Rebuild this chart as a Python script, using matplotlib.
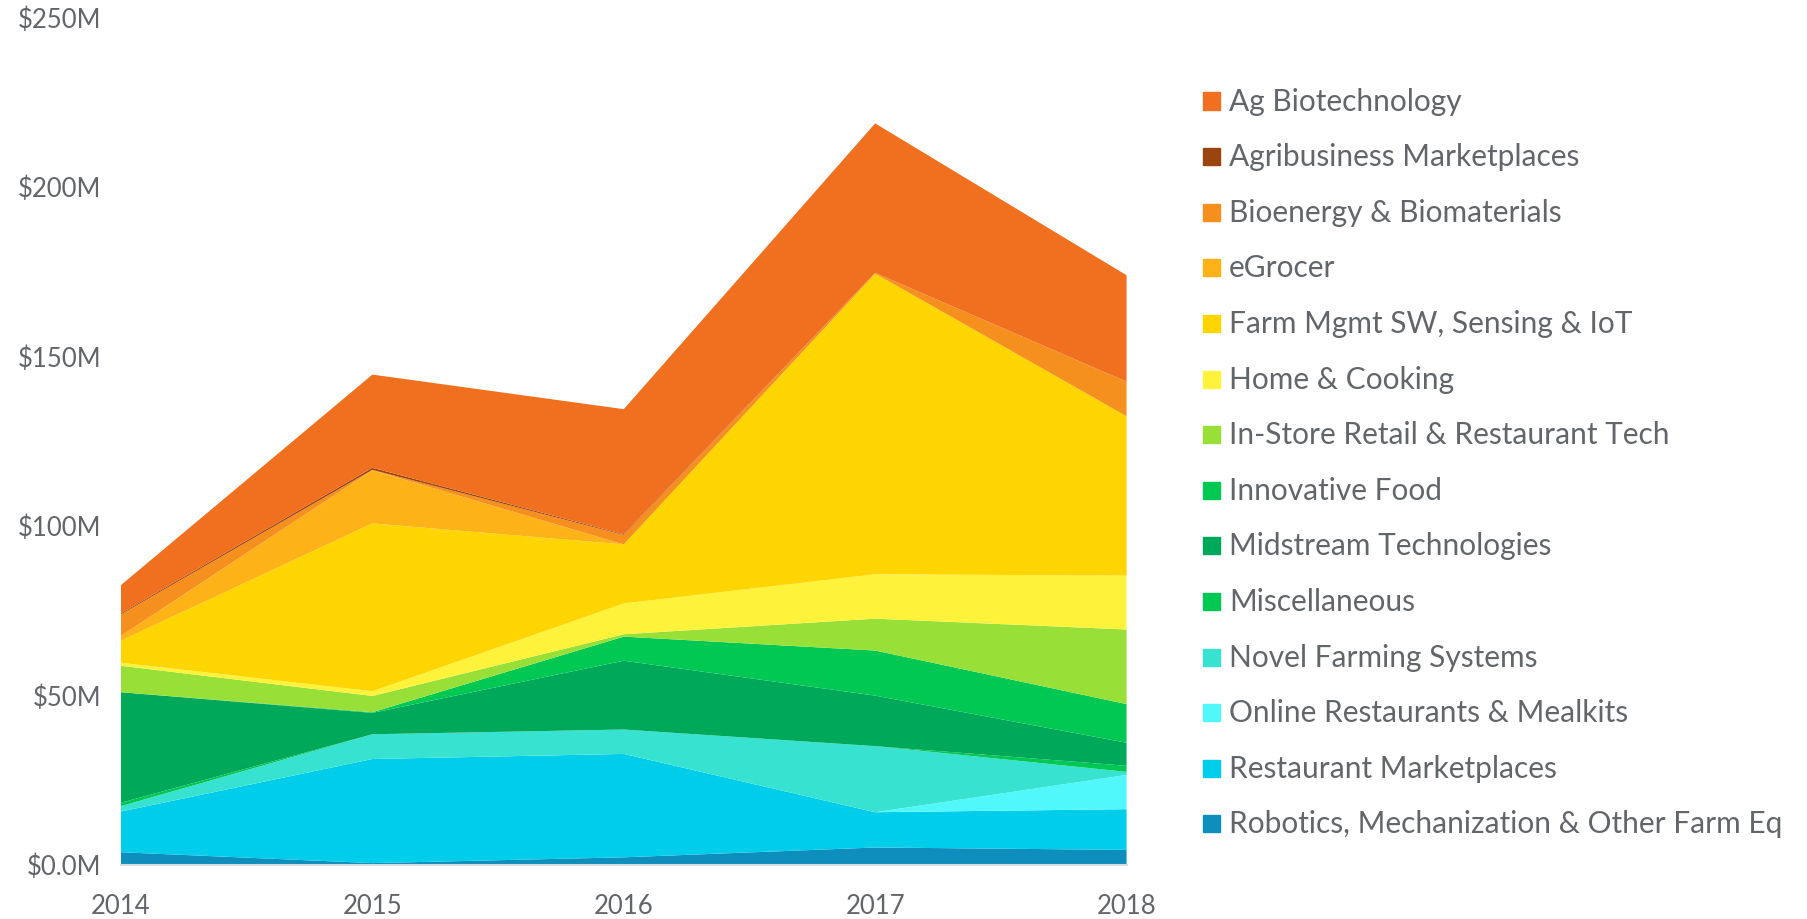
import matplotlib
matplotlib.use("Agg")
import matplotlib.pyplot as plt
from matplotlib.patches import Rectangle

plt.rcParams['font.family'] = ['Lato', 'DejaVu Sans']

# years on the x axis
years = [2014, 2015, 2016, 2017, 2018]

# funding per category ($M), stacked bottom -> top
robotics = [3.7, 0.5, 2.2, 5.1, 4.4]
restaurant_mkt = [12.0, 30.7, 30.5, 10.4, 12.0]
online_rest = [0.0, 0.0, 0.0, 0.0, 10.1]
novel_farming = [1.6, 7.3, 7.2, 19.5, 0.9]
misc = [1.0, 0.0, 0.0, 0.0, 1.8]
midstream = [32.6, 6.3, 20.3, 14.9, 6.8]
innovative_food = [0.0, 0.2, 7.1, 13.3, 11.4]
instore = [7.8, 4.8, 0.7, 9.4, 22.0]
home_cooking = [0.9, 1.4, 9.1, 13.1, 15.9]
farm_mgmt = [6.5, 49.5, 17.4, 88.7, 47.0]
egrocer = [1.4, 15.7, 0.0, 0.0, 0.0]
bioenergy = [6.4, 0.1, 2.8, 0.2, 10.2]
agribusiness = [0.3, 0.6, 0.2, 0.0, 0.0]
ag_biotech = [8.3, 27.5, 36.9, 44.1, 31.4]

series = [robotics, restaurant_mkt, online_rest, novel_farming, misc, midstream,
          innovative_food, instore, home_cooking, farm_mgmt, egrocer, bioenergy,
          agribusiness, ag_biotech]
labels = ['Robotics, Mechanization & Other Farm Eq', 'Restaurant Marketplaces',
          'Online Restaurants & Mealkits', 'Novel Farming Systems', 'Miscellaneous',
          'Midstream Technologies', 'Innovative Food', 'In-Store Retail & Restaurant Tech',
          'Home & Cooking', 'Farm Mgmt SW, Sensing & IoT', 'eGrocer',
          'Bioenergy & Biomaterials', 'Agribusiness Marketplaces', 'Ag Biotechnology']
colors = ['#0E8EBD', '#00CDEA', '#50F8FC', '#37E3D0', '#00C853', '#00A85A',
          '#00C853', '#98DF38', '#FFF23A', '#FFD500', '#FDB218', '#F5901F',
          '#9A4410', '#F0701F']

yticks = [0, 50, 100, 150, 200, 250]
ytick_labels = ['$0.0M', '$50M', '$100M', '$150M', '$200M', '$250M']

text_color = '#636669'

fig = plt.figure(figsize=(18.08, 9.19), dpi=100)
ax = fig.add_axes([0.0669, 0.0590, 0.5562, 0.9222])

ax.stackplot(years, *series, colors=colors, linewidth=0)

ax.set_xlim(2014, 2018)
ax.set_ylim(0, 250)
ax.set_xticks(years)
ax.set_xticklabels([str(y) for y in years])
ax.set_yticks(yticks)
ax.set_yticklabels(ytick_labels)
ax.tick_params(axis='both', length=0, labelsize=18.5, colors=text_color)
ax.tick_params(axis='x', pad=21)
ax.tick_params(axis='y', pad=14)
for s in ['top', 'right', 'left']:
    ax.spines[s].set_visible(False)
ax.spines['bottom'].set_color('#D5DDE2')
ax.spines['bottom'].set_linewidth(1.5)

# legend, drawn top -> bottom
W, H = 1808, 919
y0, step = 101.5, 55.6
for i, (lab, col) in enumerate(zip(labels[::-1], colors[::-1])):
    yc = y0 + i * step
    fig.patches.append(Rectangle((1203 / W, 1 - (yc + 8) / H), 17 / W, 17 / H,
                                 transform=fig.transFigure, color=col))
    fig.text(1229 / W, 1 - yc / H, lab, fontsize=21.5, color=text_color,
             va='center', ha='left')

fig.savefig('out.png', dpi=100)
